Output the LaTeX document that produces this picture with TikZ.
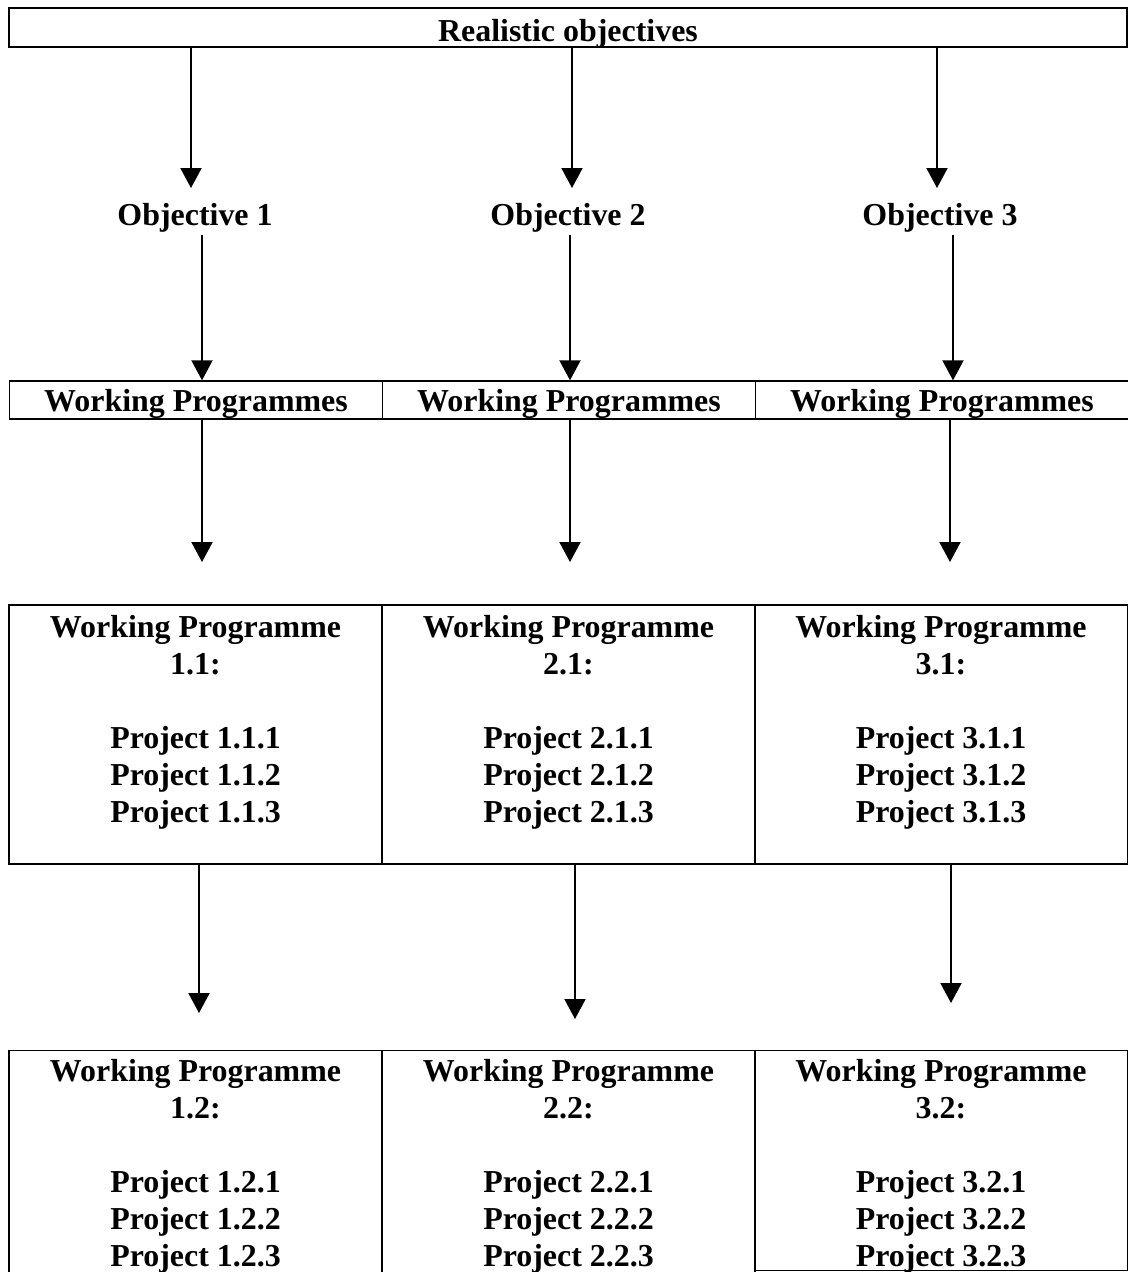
\documentclass[tikz,border=0pt]{standalone}
\usepackage{fontspec}
\setmainfont{Liberation Serif}
\usetikzlibrary{arrows.meta}

\begin{document}
\begin{tikzpicture}[
  x=0.025cm, y=-0.025cm,
  box/.style={draw, line width=1pt, inner sep=0pt},
  lbl/.style={font=\fontsize{22.7}{26.3}\selectfont\bfseries, inner sep=0pt, align=center, text depth=0pt},
  arr/.style={line width=1.4pt, -{Triangle[length=5mm,width=5.25mm]}},
  ]
\useasboundingbox (0,0) rectangle (1128,1272);
\clip (0,0) rectangle (1128,1272);
% top level
\node[box, lbl, text height=19.6pt, minimum width=1118*0.025cm, minimum height=39*0.025cm] (top) at (568,27.5) {Realistic objectives};
\foreach \i/\ax/\ox/\bx in {1/191/195/202, 2/572/568/570, 3/937/940/953} {
  \coordinate (a\i) at (\ax,188);
  \draw[arr] (top.south -| a\i) -- (a\i);
  \node[lbl] (obj\i) at (\ox,214) {Objective \i};
  \node[box, lbl, minimum width=373*0.025cm, minimum height=38*0.025cm] (wp\i) at ({-177+373*\i},400) {Working Programmes};
  \coordinate (b\i) at (\bx,400);
  \draw[arr] (obj\i.south -| b\i) ++(0,10) -- (wp\i.north -| b\i);
}
% working programmes x.1
\foreach \i/\cx/\ax in {1/195.5/202, 2/568.5/570, 3/941/950} {
  \coordinate (c\i) at (\ax,562);
  \draw[arr] (wp\i.south -| c\i) -- (c\i);
  \node[box, minimum width=373*0.025cm, minimum height=259*0.025cm] (wpa\i) at (\cx,734.5) {};
  \node[lbl, anchor=north] (wpat\i) at (\cx,615) {Working Programme\\\i.1:\\[26.3pt]Project \i.1.1\\Project \i.1.2\\Project \i.1.3};
}
% working programmes x.2
\foreach \i/\cx/\ax/\ay/\h in {1/195.5/199/1013/230, 2/568.5/575/1019/230, 3/941/951/1003/220} {
  \coordinate (d\i) at (\ax,\ay);
  \draw[arr] (wpa\i.south -| d\i) -- (d\i);
  \node[box, anchor=north, minimum width=373*0.025cm, minimum height=\h*0.025cm] (wpb\i) at (\cx,1050) {};
  \node[lbl, anchor=north] (wpbt\i) at (\cx,1059) {Working Programme\\\i.2:\\[26.3pt]Project \i.2.1\\Project \i.2.2\\Project \i.2.3};
}
\end{tikzpicture}
\end{document}
